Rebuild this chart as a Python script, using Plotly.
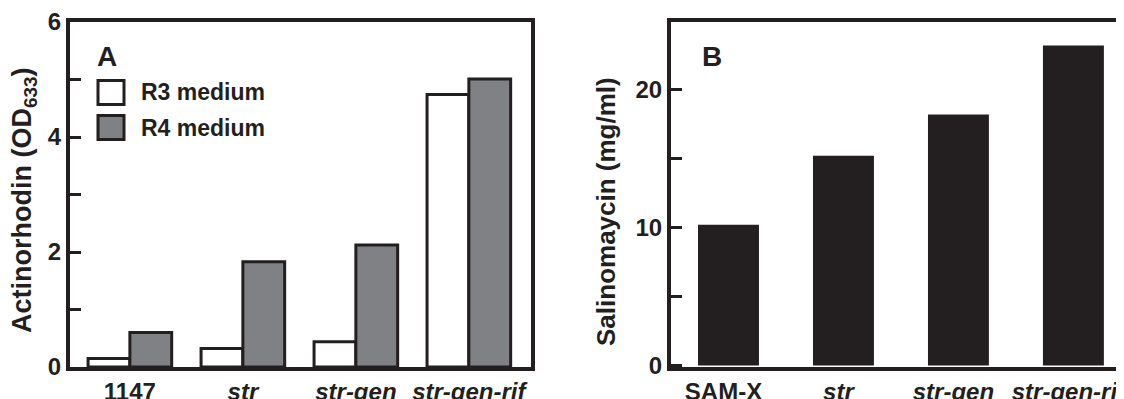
import plotly.graph_objects as go

# ---- data ----
strains_a = ["1147", "str", "str-gen", "str-gen-rif"]
strain_labels_a = ["1147", "<i>str</i>", "<i>str-gen</i>", "<i>str-gen-rif</i>"]
r3_medium = [0.15, 0.32, 0.44, 4.74]
r4_medium = [0.60, 1.83, 2.12, 5.01]
series_names = ["R3 medium", "R4 medium"]

strains_b = ["SAM-X", "str", "str-gen", "str-gen-rif"]
strain_labels_b = ["SAM-X", "<i>str</i>", "<i>str-gen</i>", "<i>str-gen-rif</i>"]
salinomycin = [10.2, 15.2, 18.2, 23.2]

# ---- style ----
W, H = 1116, 399
OFF = 8  # page body margin
INK = "#231f20"
GREY = "#808184"
FONT = "Liberation Sans, Arial, Helvetica, sans-serif"
series_fill = ["#ffffff", GREY]

def px_x(p):
    return (p - OFF) / W

def px_y(p):
    return 1 - (p - OFF) / H

fig = go.Figure()

bw = 0.37
for name, vals, fill, off in zip(series_names, [r3_medium, r4_medium], series_fill, [-bw, 0.0]):
    fig.add_trace(go.Bar(
        x=strains_a, y=vals, name=name, xaxis="x", yaxis="y",
        width=bw, offset=off,
        marker=dict(color=fill, line=dict(color=INK, width=3)),
        showlegend=False,
    ))

fig.add_trace(go.Bar(
    x=strains_b, y=salinomycin, name="Salinomycin", xaxis="x2", yaxis="y2",
    width=0.53, marker=dict(color=INK, line=dict(width=0)),
    showlegend=False,
))

tickfont = dict(family=FONT, size=24, color=INK, weight="bold")
common_x = dict(
    type="category", showline=True, linecolor=INK, linewidth=4, mirror=True,
    ticks="", showgrid=False, zeroline=False, tickfont=tickfont, automargin=False,
)
common_y = dict(
    showline=True, linecolor=INK, linewidth=4, ticks="inside", ticklen=11,
    tickwidth=3, tickcolor=INK, showgrid=False, zeroline=False, tickfont=tickfont,
    automargin=False,
)

fig.update_layout(
    template="none",
    width=W, height=H,
    margin=dict(l=0, r=0, t=0, b=0, pad=0),
    paper_bgcolor="white", plot_bgcolor="white",
    barmode="overlay",
    showlegend=False,
    font=dict(family=FONT, color=INK),
    xaxis=dict(common_x, domain=[px_x(70), px_x(531)], range=[-0.53, 3.55],
               categoryorder="array", categoryarray=strains_a,
               tickvals=strains_a, ticktext=strain_labels_a, anchor="y"),
    yaxis=dict(common_y, domain=[px_y(367), px_y(22)], range=[0, 6], dtick=2,
               mirror=True, anchor="x",
               minor=dict(dtick=1, ticks="inside", ticklen=11, tickwidth=3, tickcolor=INK)),
    xaxis2=dict(common_x, domain=[px_x(671), 1.0], range=[-0.5, 3.44],
                categoryorder="array", categoryarray=strains_b,
                tickvals=strains_b, ticktext=strain_labels_b, anchor="y2",
                ticklabelshift=-5),
    yaxis2=dict(common_y, domain=[px_y(367), px_y(22)], range=[-0.1, 24.9], dtick=10,
                tick0=0, mirror=False, anchor="x2",
                minor=dict(dtick=5, tick0=0, ticks="inside", ticklen=11, tickwidth=3, tickcolor=INK)),
)

annots = []
# axis titles
annots.append(dict(text="Actinorhodin (OD<sub>633</sub>)", xref="paper", yref="paper",
                   x=px_x(24), y=px_y(200), textangle=-90, showarrow=False,
                   xanchor="center", yanchor="middle",
                   font=dict(family=FONT, size=27, color=INK, weight="bold")))
annots.append(dict(text="Salinomaycin (mg/ml)", xref="paper", yref="paper",
                   x=px_x(606), y=px_y(212), textangle=-90, showarrow=False,
                   xanchor="center", yanchor="middle",
                   font=dict(family=FONT, size=26, color=INK, weight="bold")))
# panel letters
for letter, cx in [("A", 107), ("B", 712)]:
    annots.append(dict(text=letter, xref="paper", yref="paper", x=px_x(cx), y=px_y(56),
                       showarrow=False, xanchor="center", yanchor="middle",
                       font=dict(family=FONT, size=28, color=INK, weight="bold")))

# legend (drawn key)
shapes = []
legend_rows = [92.5, 127.5]
for name, fill, cy in zip(series_names, series_fill, legend_rows):
    shapes.append(dict(type="rect", xref="paper", yref="paper",
                       x0=px_x(98), x1=px_x(124), y0=px_y(cy + 12), y1=px_y(cy - 12),
                       fillcolor=fill, line=dict(color=INK, width=3)))
    annots.append(dict(text=name, xref="paper", yref="paper", x=px_x(139), y=px_y(cy),
                       showarrow=False, xanchor="left", yanchor="middle",
                       font=dict(family=FONT, size=23, color=INK, weight="bold")))

fig.update_layout(annotations=annots, shapes=shapes)

fig.write_html("out.html")
